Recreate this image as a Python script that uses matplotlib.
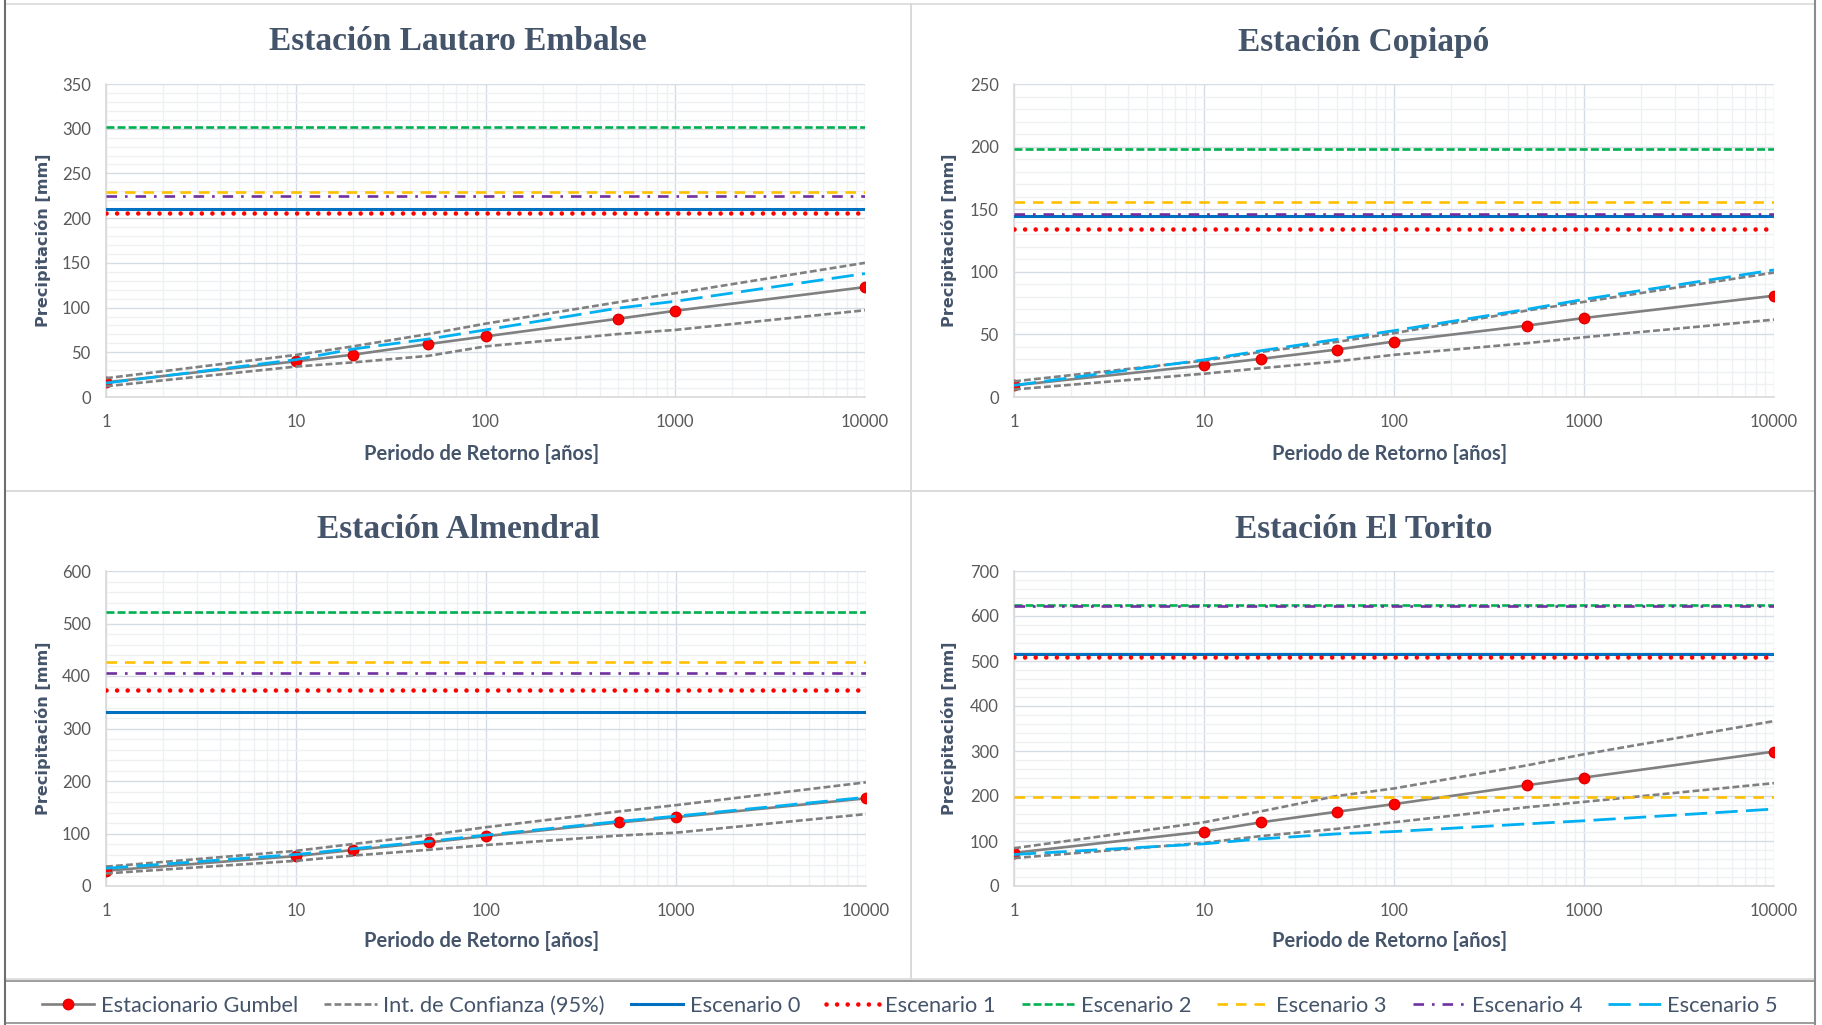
import matplotlib
matplotlib.use('Agg')
import matplotlib.pyplot as plt
from matplotlib.lines import Line2D
from matplotlib.patches import Rectangle
from matplotlib.ticker import MultipleLocator, LogLocator, FixedLocator, NullFormatter

# Return periods (years)
periodos = [1, 10, 20, 50, 100, 500, 1000, 10000]

estaciones = ['Estación Lautaro Embalse', 'Estación Copiapó',
              'Estación Almendral', 'Estación El Torito']

# Stationary Gumbel estimates (mm)
gumbel_lautaro = [16.4, 39.8, 47.3, 59.2, 67.8, 87.5, 96.4, 122.9]
gumbel_copiapo = [9.3, 25.2, 30.5, 37.9, 44.3, 57.0, 63.1, 80.9]
gumbel_almendral = [29.2, 57.0, 68.6, 83.0, 95.0, 121.0, 131.0, 167.0]
gumbel_torito = [73.7, 121.0, 141.6, 165.0, 182.0, 224.0, 241.0, 298.7]

# 95% confidence interval (upper / lower)
ci_up_lautaro = [21.0, 47.0, 56.6, 70.4, 82.0, 106.0, 116.0, 150.0]
ci_lo_lautaro = [12.0, 34.0, 38.7, 46.0, 56.6, 70.4, 75.0, 97.0]
ci_up_copiapo = [12.5, 29.0, 36.0, 44.0, 51.0, 69.0, 76.0, 99.4]
ci_lo_copiapo = [6.0, 18.6, 23.0, 28.5, 33.7, 43.0, 47.7, 61.8]
ci_up_almendral = [36.8, 67.0, 80.0, 97.0, 112.0, 142.0, 154.0, 197.5]
ci_lo_almendral = [24.0, 48.0, 58.0, 69.0, 78.0, 96.0, 101.6, 137.0]
ci_up_torito = [84.0, 141.6, 166.0, 200.0, 216.8, 268.0, 292.8, 366.5]
ci_lo_torito = [62.0, 96.0, 111.0, 127.0, 141.6, 175.0, 187.0, 228.6]

# Escenario 5 (varies with return period)
esc5_lautaro = [15.6, 41.7, 53.6, 64.8, 75.0, 99.4, 107.0, 138.0]
esc5_copiapo = [9.3, 29.7, 37.0, 46.0, 53.0, 70.0, 78.0, 101.5]
esc5_almendral = [33.7, 60.0, 71.0, 85.0, 97.0, 123.0, 133.0, 169.0]
esc5_torito = [70.0, 93.7, 104.7, 115.8, 121.0, 138.0, 145.0, 171.0]

# Constant scenarios 0-4 per station: [Esc0, Esc1, Esc2, Esc3, Esc4]
esc_lautaro = [210.0, 205.5, 302.0, 229.0, 225.0]
esc_copiapo = [144.5, 133.9, 198.0, 155.9, 146.3]
esc_almendral = [331.0, 373.0, 522.5, 426.7, 406.0]
esc_torito = [516.0, 510.0, 624.6, 197.0, 622.4]

y_max = [350, 250, 600, 700]
y_step = [50, 50, 100, 100]

gumbel = [gumbel_lautaro, gumbel_copiapo, gumbel_almendral, gumbel_torito]
ci_up = [ci_up_lautaro, ci_up_copiapo, ci_up_almendral, ci_up_torito]
ci_lo = [ci_lo_lautaro, ci_lo_copiapo, ci_lo_almendral, ci_lo_torito]
esc5 = [esc5_lautaro, esc5_copiapo, esc5_almendral, esc5_torito]
esc_const = [esc_lautaro, esc_copiapo, esc_almendral, esc_torito]

W, H = 1822, 1025
TXT = '#44546A'
TICK = '#595959'
SANS = 'Lato'

# line styles: (color, lw, dashes, capstyle)
styles = [
    ('#0070C0', 2.2, None, 'butt'),            # Escenario 0
    ('#FF0000', 3.3, (0.01, 2.3), 'round'),    # Escenario 1
    ('#00B050', 1.9, (3, 1.2), 'butt'),        # Escenario 2
    ('#FFC000', 1.9, (4, 3), 'butt'),          # Escenario 3
    ('#7030A0', 1.9, (4, 3, 1, 3), 'butt'),    # Escenario 4
    ('#00B0F0', 2.0, (8, 3), 'butt'),          # Escenario 5
]

fig = plt.figure(figsize=(W / 100, H / 100), dpi=100)


def px_rect(x0, x1, ytop, ybot):
    return [x0 / W, 1 - ybot / H, (x1 - x0) / W, (ybot - ytop) / H]


# panel frames
for (x0, y0, x1, y1) in [(5, 4, 911, 491), (911, 4, 1815, 491),
                         (5, 491, 911, 979), (911, 491, 1815, 979)]:
    fig.add_artist(Rectangle((x0 / W, 1 - y1 / H), (x1 - x0) / W, (y1 - y0) / H,
                             transform=fig.transFigure, fill=False,
                             edgecolor='#D9D9D9', lw=1.2))
fig.add_artist(Rectangle((5 / W, 1 - 1023 / H), 1810 / W, 42 / H,
                         transform=fig.transFigure, fill=False,
                         edgecolor='#8C8C8C', lw=1.2))
fig.add_artist(Line2D([5 / W, 5 / W], [0, 1], transform=fig.transFigure,
                      color='#6E6E6E', lw=1.5))
fig.add_artist(Line2D([1815 / W, 1815 / W], [0, 1], transform=fig.transFigure,
                      color='#8C8C8C', lw=1.5))

boxes = [(106, 865, 84, 397), (1014, 1774, 84, 397),
         (106, 866, 571, 886), (1014, 1774, 571, 886)]
panel_x = [5, 911, 5, 911]
panel_y = [4, 4, 491, 491]

for i in range(4):
    x0, x1, yt, yb = boxes[i]
    ax = fig.add_axes(px_rect(x0, x1, yt, yb))
    ax.set_xscale('log')
    ax.set_xlim(1, 10000)
    ax.set_ylim(0, y_max[i])

    ax.xaxis.set_major_locator(FixedLocator([1, 10, 100, 1000, 10000]))
    ax.xaxis.set_minor_locator(LogLocator(base=10, subs=range(2, 10)))
    ax.xaxis.set_minor_formatter(NullFormatter())
    ax.set_xticklabels(['1', '10', '100', '1000', '10000'])
    ax.yaxis.set_major_locator(MultipleLocator(y_step[i]))
    ax.yaxis.set_minor_locator(MultipleLocator(y_step[i] / 5))

    ax.grid(which='major', color='#D6DCE5', lw=1.0)
    ax.grid(which='minor', color='#EEF0F3', lw=1.0)
    ax.set_axisbelow(True)
    for s in ['top', 'right']:
        ax.spines[s].set_visible(False)
    for s in ['left', 'bottom']:
        ax.spines[s].set_color('#D9D9D9')
        ax.spines[s].set_linewidth(1.2)
    ax.tick_params(which='both', length=0)
    ax.tick_params(axis='y', pad=11, labelsize=12, labelcolor=TICK)
    ax.tick_params(axis='x', pad=12.5, labelsize=12, labelcolor=TICK)
    for lab in ax.get_xticklabels() + ax.get_yticklabels():
        lab.set_fontfamily(SANS)

    ax.plot(periodos, gumbel[i], color='#808080', lw=1.9, marker='o',
            markersize=7.5, markerfacecolor='#FF0000', markeredgecolor='#E00000',
            label='Estacionario Gumbel', zorder=3)
    ax.plot(periodos, ci_up[i], color='#808080', lw=1.9, dashes=(2.6, 1.2),
            label='Int. de Confianza (95%)', zorder=3)
    ax.plot(periodos, ci_lo[i], color='#808080', lw=1.9, dashes=(2.6, 1.2), zorder=3)

    for k in range(5):
        c, lw, d, cap = styles[k]
        v = esc_const[i][k]
        line, = ax.plot([periodos[0], periodos[-1]], [v, v], color=c, lw=lw,
                        label='Escenario %d' % k, zorder=3)
        if d is not None:
            line.set_dashes(d)
        line.set_dash_capstyle(cap)
    c, lw, d, cap = styles[5]
    ax.plot(periodos, esc5[i], color=c, lw=lw, dashes=d,
            label='Escenario 5', zorder=4)

    cx = panel_x[i] + 453
    fig.text(cx / W, 1 - (panel_y[i] + 38) / H, estaciones[i], ha='center',
             va='center', fontsize=24, fontweight='bold',
             fontfamily='Liberation Serif', color=TXT)
    fig.text(((x0 + x1) / 2 - 4) / W, 1 - (panel_y[i] + 450) / H,
             'Periodo de Retorno [años]', ha='center', va='center',
             fontsize=14.5, fontweight='bold', fontfamily=SANS, color=TXT)
    fig.text((panel_x[i] + 38) / W, 1 - ((yt + yb) / 2) / H,
             'Precipitación [mm]', ha='center', va='center', rotation=90,
             fontsize=11.6, fontweight='bold', fontfamily='DejaVu Sans', color=TXT)

    if i == 0:
        handles, labels = ax.get_legend_handles_labels()

leg = fig.legend(handles, labels, loc='center', bbox_to_anchor=(910 / W, 1 - 1006 / H),
                 ncol=8, frameon=False, numpoints=1, handlelength=2.4,
                 handletextpad=0.3, columnspacing=1.2,
                 prop={'family': SANS, 'size': 15.7})
for t in leg.get_texts():
    t.set_color(TXT)

fig.savefig('out.png', dpi=100, facecolor='white')
